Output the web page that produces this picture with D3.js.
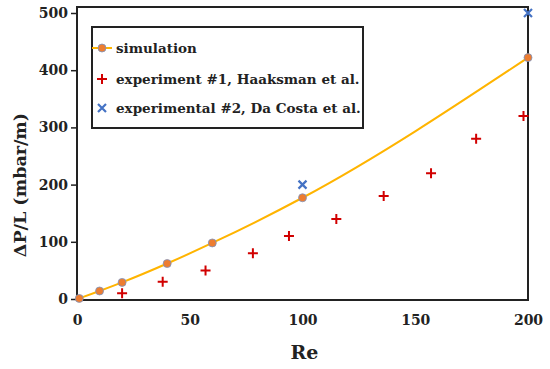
<!DOCTYPE html>
<html>
<head>
<meta charset="utf-8">
<script src="https://cdn.jsdelivr.net/npm/d3@7"></script>
<style>
  body { margin: 0; background: #fff; }
  svg text { font-family: "DejaVu Serif", "Liberation Serif", serif; }
</style>
</head>
<body>
<div id="chart"></div>
<script>
  // simulation results
  var simRe = [1, 10, 20, 40, 60, 100, 200];
  var simDp = [1, 14, 29, 62, 98, 177, 422];

  // experiment #1, Haaksman et al.
  var exp1Re = [20, 38, 57, 78, 94, 115, 136, 157, 177, 198];
  var exp1Dp = [10, 30, 50, 80, 110, 140, 180, 220, 280, 320];

  // experimental #2, Da Costa et al.
  var exp2Re = [100, 200];
  var exp2Dp = [200, 500];

  var xTicks = [0, 50, 100, 150, 200];
  var yTicks = [0, 100, 200, 300, 400, 500];

  var legendLabels = ['simulation', 'experiment #1, Haaksman et al.', 'experimental #2, Da Costa et al.'];

  var width = 550, height = 369;
  var margin = { top: 7, right: 22, bottom: 69, left: 77 };

  var svg = d3.select('#chart').append('svg')
    .attr('width', width)
    .attr('height', height);

  var x = d3.scaleLinear().domain([0, 200]).range([margin.left, width - margin.right]);
  var y = d3.scaleLinear().domain([0, 500]).range([299, 13]);

  var lineColor = '#ffb400';
  var dotFill = '#ed7d31';
  var dotStroke = '#7a94c4';
  var redColor = '#d10000';
  var blueColor = '#4472c4';

  // axes
  var xAxis = svg.append('g')
    .attr('transform', 'translate(0,' + 300 + ')')
    .call(d3.axisBottom(x).tickValues(xTicks).tickSize(0).tickPadding(15));
  xAxis.select('.domain').remove();
  xAxis.selectAll('text')
    .style('font-size', '14px')
    .style('font-weight', 'bold')
    .attr('fill', '#222');

  var yAxis = svg.append('g')
    .attr('transform', 'translate(' + margin.left + ',0)')
    .call(d3.axisLeft(y).tickValues(yTicks).tickSize(6).tickPadding(3));
  yAxis.select('.domain').remove();
  yAxis.selectAll('line').attr('stroke', '#222').attr('stroke-width', 1.5);
  yAxis.selectAll('text')
    .style('font-size', '14px')
    .style('font-weight', 'bold')
    .attr('fill', '#222');

  // frame
  svg.append('rect')
    .attr('x', margin.left)
    .attr('y', margin.top)
    .attr('width', width - margin.right - margin.left)
    .attr('height', 300 - margin.top)
    .attr('fill', 'none')
    .attr('stroke', '#222')
    .attr('stroke-width', 2);

  // axis titles
  svg.append('text')
    .attr('x', x(100) + 2)
    .attr('y', 359)
    .attr('text-anchor', 'middle')
    .style('font-size', '19px')
    .style('font-weight', 'bold')
    .attr('fill', '#222')
    .text('Re');

  svg.append('text')
    .attr('transform', 'translate(26,185) rotate(-90)')
    .attr('text-anchor', 'middle')
    .style('font-size', '17.5px')
    .style('font-weight', 'bold')
    .attr('fill', '#222')
    .text('ΔP/L (mbar/m)');

  var sim = simRe.map(function (d, i) { return [d, simDp[i]]; });
  var exp1 = exp1Re.map(function (d, i) { return [d, exp1Dp[i]]; });
  var exp2 = exp2Re.map(function (d, i) { return [d, exp2Dp[i]]; });

  var line = d3.line()
    .x(function (d) { return x(d[0]); })
    .y(function (d) { return y(d[1]); })
    .curve(d3.curveMonotoneX);

  svg.append('path')
    .datum(sim)
    .attr('d', line)
    .attr('fill', 'none')
    .attr('stroke', lineColor)
    .attr('stroke-width', 2);

  svg.selectAll('.sim')
    .data(sim)
    .enter()
    .append('circle')
    .attr('class', 'sim')
    .attr('cx', function (d) { return x(d[0]); })
    .attr('cy', function (d) { return y(d[1]); })
    .attr('r', 4)
    .attr('fill', dotFill)
    .attr('stroke', dotStroke)
    .attr('stroke-width', 0.8);

  var plus = 'M-5,0H5M0,-5V5';
  var cross = 'M-4,-4L4,4M-4,4L4,-4';

  svg.selectAll('.exp1')
    .data(exp1)
    .enter()
    .append('path')
    .attr('class', 'exp1')
    .attr('transform', function (d) { return 'translate(' + x(d[0]) + ',' + y(d[1]) + ')'; })
    .attr('d', plus)
    .attr('stroke', redColor)
    .attr('stroke-width', 2);

  svg.selectAll('.exp2')
    .data(exp2)
    .enter()
    .append('path')
    .attr('class', 'exp2')
    .attr('transform', function (d) { return 'translate(' + x(d[0]) + ',' + y(d[1]) + ')'; })
    .attr('d', cross)
    .attr('stroke', blueColor)
    .attr('stroke-width', 2.2);

  // legend
  var legend = svg.append('g');
  legend.append('rect')
    .attr('x', 92)
    .attr('y', 27)
    .attr('width', 271)
    .attr('height', 101)
    .attr('fill', '#fff')
    .attr('stroke', '#222')
    .attr('stroke-width', 2);

  var rows = [48, 79, 108];
  legend.append('line')
    .attr('x1', 92).attr('x2', 112)
    .attr('y1', rows[0]).attr('y2', rows[0])
    .attr('stroke', lineColor).attr('stroke-width', 2);
  legend.append('circle')
    .attr('cx', 102).attr('cy', rows[0]).attr('r', 4)
    .attr('fill', dotFill).attr('stroke', dotStroke).attr('stroke-width', 0.8);
  legend.append('path')
    .attr('transform', 'translate(102,' + rows[1] + ')')
    .attr('d', plus).attr('stroke', redColor).attr('stroke-width', 2);
  legend.append('path')
    .attr('transform', 'translate(102,' + rows[2] + ')')
    .attr('d', cross).attr('stroke', blueColor).attr('stroke-width', 2.2);

  legend.selectAll('.lbl')
    .data(legendLabels)
    .enter()
    .append('text')
    .attr('class', 'lbl')
    .attr('x', 116)
    .attr('y', function (d, i) { return rows[i] + 5; })
    .style('font-size', '13.5px')
    .style('font-weight', 'bold')
    .attr('fill', '#222')
    .text(function (d) { return d; });
</script>
</body>
</html>
